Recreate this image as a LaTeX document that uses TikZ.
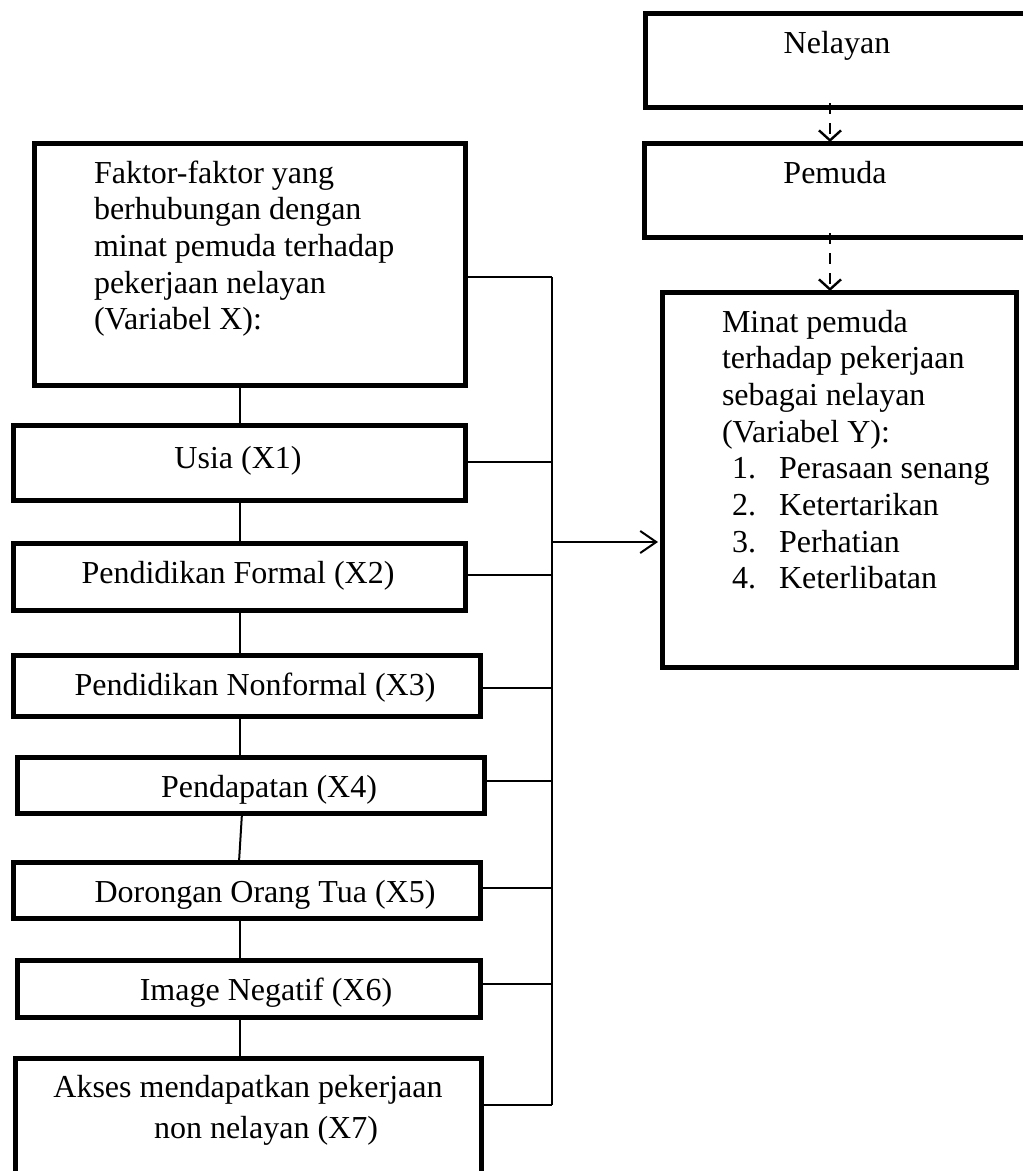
\documentclass[tikz,border=0pt]{standalone}
\usepackage{fontspec}
\setmainfont{Liberation Serif}
\usetikzlibrary{arrows.meta}
\tikzset{
  box/.style={draw, line width=5pt, inner sep=0pt, outer sep=0pt},
  txt/.style={inner sep=0pt, outer sep=0pt, font=\fontsize{32pt}{36.7pt}\selectfont},
  thin/.style={line width=2pt},
  dasharrow/.style={line width=2.6pt, dash pattern=on 11pt off 9pt, -{Straight Barb[length=10pt,width=22pt,line width=2.4pt]}},
  mainarrow/.style={line width=2pt, -{Straight Barb[length=16pt,width=22pt,line width=2pt]}, shorten >=4pt}
}
\begin{document}
\begin{tikzpicture}[x=1pt,y=-1pt]
\useasboundingbox (0,0) rectangle (1023,1171);
\clip (0,0) rectangle (1023,1171);
\fill[white] (0,0) rectangle (1023,1171);

% right column boxes
\node[box, minimum width=390pt, minimum height=94pt] (nel) at (840,60) {};
\node[box, minimum width=392pt, minimum height=94pt] (pem) at (840,190) {};
\node[box, minimum width=354pt, minimum height=375pt] (minat) at (839,479.5) {};

\node[txt, anchor=base] (tnel) at (837,53) {Nelayan};
\node[txt, anchor=base] (tpem) at (835,183) {Pemuda};

\node[txt, anchor=base west] (m1) at (722,332) {Minat pemuda};
\node[txt, anchor=base west] (m2) at (722,368.7) {terhadap pekerjaan};
\node[txt, anchor=base west] (m3) at (722,405.4) {sebagai nelayan};
\node[txt, anchor=base west] (m4) at (722,442.1) {(Variabel Y):};
\node[txt, anchor=base west] (n1) at (732,478.8) {1.};
\node[txt, anchor=base west] (i1) at (779,478.8) {Perasaan senang};
\node[txt, anchor=base west] (n2) at (732,515.5) {2.};
\node[txt, anchor=base west] (i2) at (779,515.5) {Ketertarikan};
\node[txt, anchor=base west] (n3) at (732,552.2) {3.};
\node[txt, anchor=base west] (i3) at (779,552.2) {Perhatian};
\node[txt, anchor=base west] (n4) at (732,588.9) {4.};
\node[txt, anchor=base west] (i4) at (779,588.9) {Keterlibatan};

% dashed arrows
\coordinate (dx) at (830,0);
\draw[dasharrow] ([yshift=4pt]nel.south -| dx) -- ([yshift=1pt]pem.north -| dx);
\draw[dasharrow] ([yshift=4pt]pem.south -| dx) -- ([yshift=1pt]minat.north -| dx);

% left column boxes
\node[box, minimum width=431pt, minimum height=242pt] (fak) at (249.5,264) {};
\node[box, minimum width=452pt, minimum height=75pt] (x1) at (239,462.5) {};
\node[box, minimum width=452pt, minimum height=67pt] (x2) at (239,576.5) {};
\node[box, minimum width=467pt, minimum height=61pt] (x3) at (246.5,685.5) {};
\node[box, minimum width=467pt, minimum height=56pt] (x4) at (250.5,785) {};
\node[box, minimum width=467pt, minimum height=56pt] (x5) at (246.5,890) {};
\node[box, minimum width=463pt, minimum height=57pt] (x6) at (248.5,988.5) {};
\node[box, minimum width=466pt, minimum height=142pt] (x7) at (248,1129) {};

\node[txt, anchor=base west] (f1) at (94,183) {Faktor-faktor yang};
\node[txt, anchor=base west] (f2) at (94,219.7) {berhubungan dengan};
\node[txt, anchor=base west] (f3) at (94,256.4) {minat pemuda terhadap};
\node[txt, anchor=base west] (f4) at (94,293.1) {pekerjaan nelayan};
\node[txt, anchor=base west] (f5) at (94,329.8) {(Variabel X):};

\node[txt, anchor=base] (t1) at (238,468) {Usia (X1)};
\node[txt, anchor=base] (t2) at (238,583) {Pendidikan Formal (X2)};
\node[txt, anchor=base] (t3) at (255,695) {Pendidikan Nonformal (X3)};
\node[txt, anchor=base] (t4) at (269,797) {Pendapatan (X4)};
\node[txt, anchor=base] (t5) at (265,902) {Dorongan Orang Tua (X5)};
\node[txt, anchor=base] (t6) at (266,1000) {Image Negatif (X6)};
\node[txt, anchor=base] (t7a) at (248,1097) {Akses mendapatkan pekerjaan};
\node[txt, anchor=base] (t7b) at (266,1138) {non nelayan (X7)};

% vertical chain
\coordinate (vx) at (240,0);
\draw[thin] (fak.south -| vx) -- (x1.north -| vx);
\draw[thin] (x1.south -| vx) -- (x2.north -| vx);
\draw[thin] (x2.south -| vx) -- (x3.north -| vx);
\draw[thin] (x3.south -| vx) -- (x4.north -| vx);
\draw[thin] ([xshift=2pt]x4.south -| vx) -- ([xshift=-1pt]x5.north -| vx);
\draw[thin] (x5.south -| vx) -- (x6.north -| vx);
\draw[thin] (x6.south -| vx) -- (x7.north -| vx);

% bus
\coordinate (b0) at (552,277);
\coordinate (b1) at (552,462);
\coordinate (bA) at (552,542);
\coordinate (b2) at (552,575);
\coordinate (b3) at (552,688);
\coordinate (b4) at (552,781);
\coordinate (b5) at (552,888);
\coordinate (b6) at (552,984);
\coordinate (b7) at (552,1105);
\draw[thin] (b0) -- (b7);
\draw[thin] (b0 -| fak.east) -- (b0);
\draw[thin] (b1 -| x1.east) -- (b1);
\draw[thin] (b2 -| x2.east) -- (b2);
\draw[thin] (b3 -| x3.east) -- (b3);
\draw[thin] (b4 -| x4.east) -- (b4);
\draw[thin] (b5 -| x5.east) -- (b5);
\draw[thin] (b6 -| x6.east) -- (b6);
\draw[thin] (b7 -| x7.east) -- (b7);
\draw[mainarrow] (bA) -- (bA -| minat.west);
\end{tikzpicture}
\end{document}
